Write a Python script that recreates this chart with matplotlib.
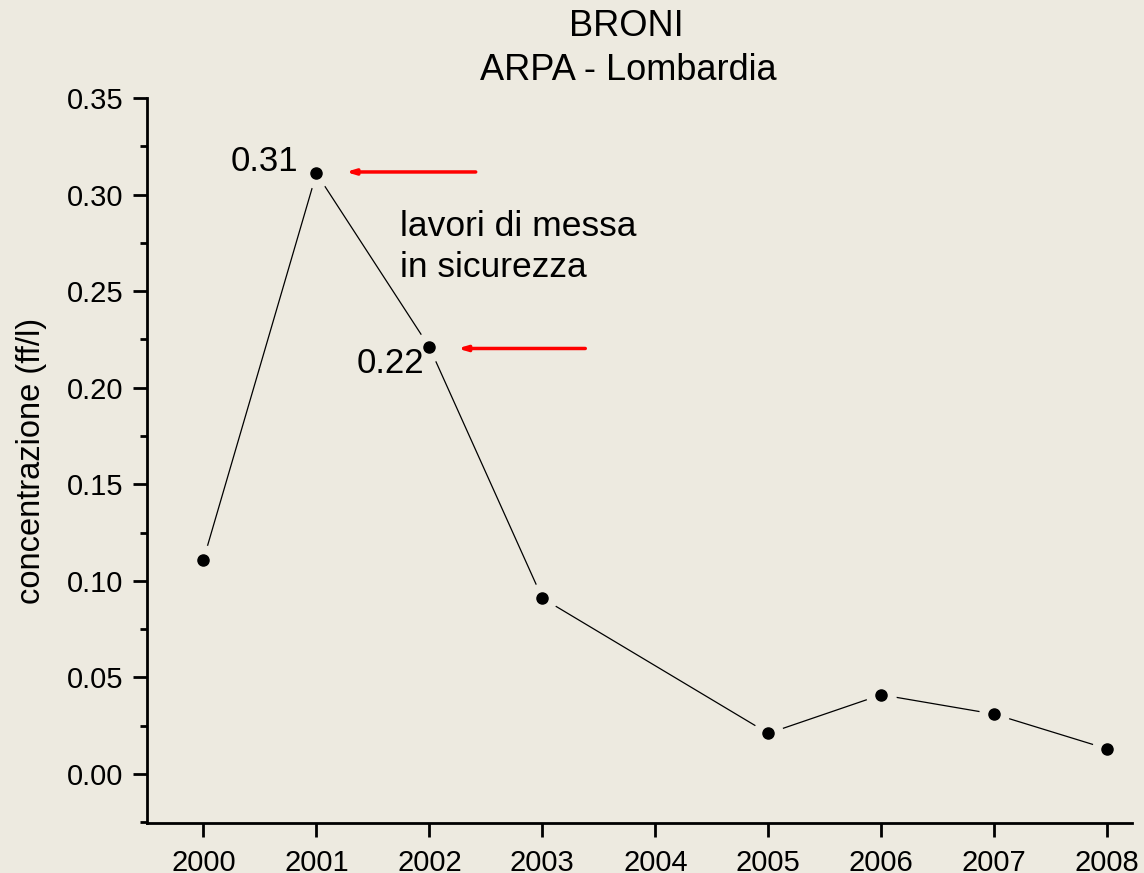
import matplotlib.pyplot as plt
from matplotlib.ticker import MultipleLocator

plt.rcParams["font.family"] = "Liberation Sans"

# dati
anni = [2000, 2001, 2002, 2003, 2005, 2006, 2007, 2008]
concentrazione = [0.111, 0.311, 0.221, 0.091, 0.021, 0.041, 0.031, 0.013]
tick_anni = [2000, 2001, 2002, 2003, 2004, 2005, 2006, 2007, 2008]

sfondo = "#EDEAE0"

fig = plt.figure(figsize=(11.44, 8.73), dpi=100, facecolor=sfondo)
ax = fig.add_axes([147/1144, 1 - 823/873, (1132-147)/1144, (823-98)/873])
ax.set_facecolor(sfondo)

# linea sottile con interruzione attorno ai punti (stile Origin)
ax.plot(anni, concentrazione, color="black", lw=0.9, zorder=2)
ax.plot(anni, concentrazione, "o", color=sfondo, ms=21, zorder=3)
ax.plot(anni, concentrazione, "o", color="black", ms=8, zorder=4)

ax.set_xlim(1999.5, 2008.22)
ax.set_ylim(-0.0254, 0.35)
ax.set_xticks(tick_anni)
ax.yaxis.set_major_locator(MultipleLocator(0.05))
ax.yaxis.set_minor_locator(MultipleLocator(0.025))
ax.yaxis.set_major_formatter(lambda v, p: f"{v:.2f}")

for s in ["top", "right"]:
    ax.spines[s].set_visible(False)
for s in ["left", "bottom"]:
    ax.spines[s].set_linewidth(2)

ax.tick_params(axis="both", which="major", length=10, width=2, labelsize=21, direction="out")
ax.tick_params(axis="y", which="minor", length=5, width=2, direction="out")
ax.tick_params(axis="x", pad=9)
ax.tick_params(axis="y", which="major", pad=7)

ax.set_ylabel("concentrazione (ff/l)", fontsize=23.5, labelpad=14)

fig.text(626/1144, 1 - 27/873, "BRONI", ha="center", va="center", fontsize=26)
fig.text(628/1144, 1 - 70/873, "ARPA - Lombardia", ha="center", va="center", fontsize=26)

# etichette e frecce
ax.text(2000.84, 0.317, "0.31", ha="right", va="center", fontsize=25)
ax.text(2001.36, 0.2125, "0.22", ha="left", va="center", fontsize=25)
ax.text(2001.74, 0.292, "lavori di messa\nin sicurezza", ha="left", va="top",
        fontsize=25.5, linespacing=1.3)

freccia = dict(arrowstyle="-|>,head_length=0.5,head_width=0.15", color="red", lw=2.5,
               shrinkA=0, shrinkB=0)
ax.annotate("", xy=(2001.26, 0.3117), xytext=(2002.41, 0.3117), arrowprops=freccia)
ax.annotate("", xy=(2002.25, 0.2203), xytext=(2003.38, 0.2203), arrowprops=freccia)

fig.savefig("out.png", dpi=100, facecolor=sfondo)
